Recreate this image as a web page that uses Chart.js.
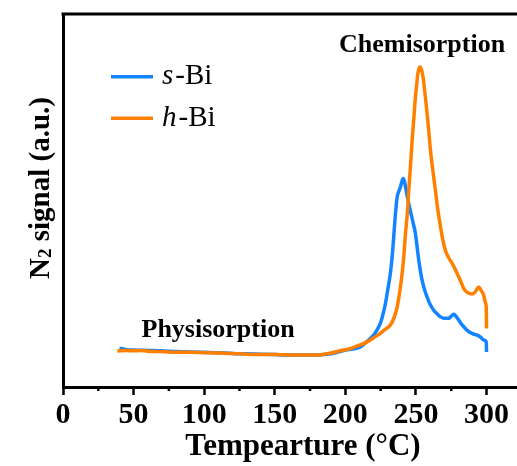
<!DOCTYPE html>
<html>
<head>
<meta charset="utf-8">
<script src="https://cdn.jsdelivr.net/npm/chart.js@4.4.0/dist/chart.umd.min.js"></script>
<style>
  html, body { margin: 0; padding: 0; overflow: hidden; background: #fff; }
  canvas { display: block; }
</style>
</head>
<body>
<canvas id="tpdChart" width="543" height="466"></canvas>
<script>
// N2-TPD traces, temperature in °C and signal in a.u. (0-100 scale)
const tempS = [40, 45, 50, 60, 70, 80, 90, 100, 110, 120, 130, 140, 150, 160, 170, 180, 190, 200, 205, 210, 215, 220,
  222.5, 225, 227, 228.5, 230, 232, 233.5, 234.5, 235.5, 236.7, 238, 239, 240.9, 242, 242.6, 244, 246, 248, 249.6,
  251, 252, 253.2, 254.4, 256, 257.9, 260, 262.6, 265, 267.4, 270, 273.3, 275, 276.8, 278.5, 280.4, 283, 286.3,
  290, 293.4, 296, 298, 299.8, 300];
const signalS = [10.4, 10.0, 9.9, 9.8, 9.7, 9.5, 9.4, 9.3, 9.2, 9.0, 8.9, 8.8, 8.7, 8.6, 8.6, 8.6, 8.9, 9.9, 10.2, 10.6, 12.1, 13.9,
  15.3, 17.3, 20.0, 22.6, 26.0, 30.8, 36.5, 41.5, 46.5, 50.9, 52.6, 53.6, 55.9, 55.0, 53.6, 50.8, 47.3, 44.0, 41.2,
  37.0, 34.0, 31.0, 28.6, 26.2, 24.1, 22.2, 20.6, 19.6, 18.8, 18.4, 18.4, 19.0, 19.5, 18.9, 17.9, 16.5, 15.2,
  14.3, 13.9, 13.3, 12.6, 12.1, 9.4];

const tempH = [38.5, 40, 45, 50, 55, 60, 70, 80, 90, 100, 110, 120, 130, 140, 150, 160, 170, 180, 185, 190, 195, 200,
  203.5, 210, 215.4, 220, 224.8, 228, 231.9, 234.5, 236.7, 238.5, 240.2, 241.5, 242.6, 244, 244.9, 246, 247.3, 248.5,
  249.6, 250.5, 251.3, 252.7, 254, 255.1, 256.3, 257.5, 259, 260.3, 262, 263.8, 265.5, 267.4, 269, 270.9, 273, 275.7,
  277.5, 279.2, 281.5, 283.9, 286.5, 289.8, 292, 294.5, 296, 298, 299.3, 299.8, 300];
const signalH = [9.6, 9.7, 9.8, 9.7, 9.8, 9.6, 9.5, 9.3, 9.3, 9.2, 9.1, 9.0, 8.8, 8.7, 8.7, 8.6, 8.6, 8.6, 8.8, 9.1, 9.6, 10.0,
  10.3, 11.2, 12.1, 13.2, 14.4, 15.4, 16.6, 18.6, 21.5, 25.5, 30.4, 35.5, 41.2, 47.0, 52.7, 58.5, 66.0, 72.0,
  77.6, 81.0, 83.9, 85.8, 85.0, 83.0, 79.0, 74.9, 69.0, 63.4, 58.0, 52.7, 47.5, 42.9, 39.5, 36.6, 34.8, 33.1,
  31.8, 30.4, 28.5, 26.4, 25.3, 24.9, 25.5, 26.8, 26.0, 24.6, 22.5, 21.5, 15.7];

const xTicks = [0, 50, 100, 150, 200, 250, 300];
const xMinorTicks = [25, 75, 125, 175, 225, 275, 325];

const BLUE = '#1284ff';
const ORANGE = '#ff8000';
const SERIF = '"Liberation Serif", "Times New Roman", serif';

const toPoints = (xs, ys) => xs.map((x, i) => ({ x: x, y: ys[i] }));

// frame top edge, minor ticks, legend, y title and the two labels
const decorations = {
  id: 'decorations',
  afterDraw(chart) {
    const { ctx, chartArea: area, scales: { x } } = chart;
    ctx.save();
    ctx.strokeStyle = '#000';
    ctx.lineWidth = 3;
    ctx.beginPath();
    ctx.moveTo(area.left - 1.5, area.top);
    ctx.lineTo(chart.width, area.top);
    ctx.stroke();

    ctx.lineWidth = 2.5;
    xMinorTicks.forEach(v => {
      const px = x.getPixelForValue(v);
      ctx.beginPath();
      ctx.moveTo(px, area.bottom);
      ctx.lineTo(px, area.bottom + 4);
      ctx.stroke();
    });

    // legend
    const entries = [
      { color: BLUE, letter: 's', y: 76.7, base: 84 },
      { color: ORANGE, letter: 'h', y: 118.3, base: 126 }
    ];
    entries.forEach(e => {
      ctx.strokeStyle = e.color;
      ctx.lineWidth = 3.5;
      ctx.beginPath();
      ctx.moveTo(111, e.y);
      ctx.lineTo(153, e.y);
      ctx.stroke();
      ctx.fillStyle = '#000';
      ctx.textBaseline = 'alphabetic';
      ctx.textAlign = 'left';
      ctx.font = 'italic 29px ' + SERIF;
      ctx.fillText(e.letter, 162, e.base);
      const w = ctx.measureText(e.letter).width;
      ctx.font = '29px ' + SERIF;
      ctx.fillText('-Bi', 162 + w + 2, e.base);
    });

    // annotations
    ctx.fillStyle = '#000';
    ctx.font = 'bold 26px ' + SERIF;
    ctx.fillText('Chemisorption', 339, 51.5);
    ctx.fillText('Physisorption', 141.5, 336.5);

    // y axis title with subscript
    ctx.translate(49, 188);
    ctx.rotate(-Math.PI / 2);
    const big = 'bold 29px ' + SERIF;
    const small = 'bold 19px ' + SERIF;
    ctx.font = big;
    const wN = ctx.measureText('N').width;
    const wRest = ctx.measureText(' signal (a.u.)').width;
    ctx.font = small;
    const w2 = ctx.measureText('2').width;
    let cx = -(wN + w2 + wRest) / 2;
    ctx.font = big;
    ctx.fillText('N', cx, 0);
    cx += wN;
    ctx.font = small;
    ctx.fillText('2', cx, 1.5);
    cx += w2;
    ctx.font = big;
    ctx.fillText(' signal (a.u.)', cx, 0);
    ctx.restore();
  }
};

new Chart(document.getElementById('tpdChart'), {
  type: 'line',
  data: {
    datasets: [
      {
        label: 's-Bi',
        data: toPoints(tempS, signalS),
        borderColor: BLUE,
        borderWidth: 3.5,
        pointRadius: 0,
        cubicInterpolationMode: 'monotone',
        order: 2
      },
      {
        label: 'h-Bi',
        data: toPoints(tempH, signalH),
        borderColor: ORANGE,
        borderWidth: 3.5,
        pointRadius: 0,
        cubicInterpolationMode: 'monotone',
        order: 1
      }
    ]
  },
  options: {
    responsive: false,
    animation: false,
    layout: { padding: { left: 55, top: 14, right: 0, bottom: 0 } },
    plugins: { legend: { display: false }, tooltip: { enabled: false } },
    scales: {
      x: {
        type: 'linear',
        min: 0,
        max: 340,
        afterBuildTicks: s => { s.ticks = xTicks.map(v => ({ value: v })); },
        afterFit: s => { s.height = 79; },
        ticks: {
          color: '#000',
          padding: 2,
          maxRotation: 0,
          autoSkip: false,
          font: { family: SERIF, size: 30, weight: 'bold' }
        },
        grid: { display: true, drawOnChartArea: false, tickLength: 8, tickWidth: 2.5, tickColor: '#000' },
        border: { display: true, color: '#000', width: 3 },
        title: {
          display: true,
          text: 'Tempearture (°C)',
          color: '#000',
          padding: 0,
          font: { family: SERIF, size: 31, weight: 'bold' }
        }
      },
      y: {
        min: 0,
        max: 100,
        ticks: { display: false },
        grid: { display: false },
        border: { display: true, color: '#000', width: 3 }
      }
    }
  },
  plugins: [decorations]
});
</script>
</body>
</html>
